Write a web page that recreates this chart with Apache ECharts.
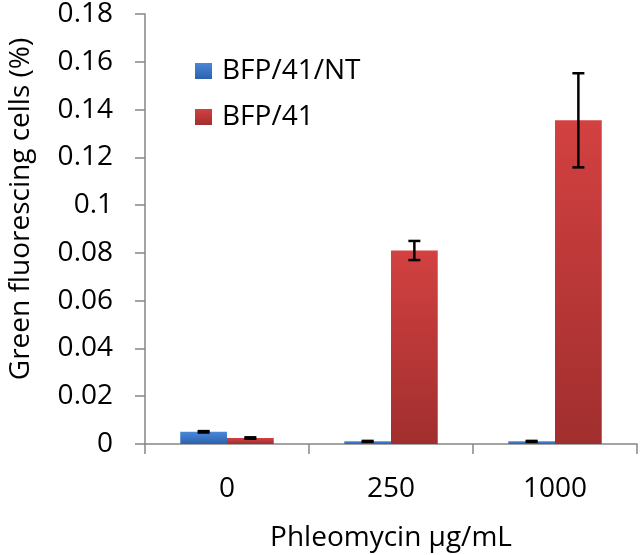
<!DOCTYPE html>
<html><head><meta charset="utf-8">
<script src="https://cdn.jsdelivr.net/npm/echarts@6/dist/echarts.min.js"></script>
<style>html,body{margin:0;padding:0;background:#fff;}#c{width:641px;height:555px;}</style>
</head><body><div id="c"></div>
<script>
const categories = ['0', '250', '1000'];
const seriesNames = ['BFP/41/NT', 'BFP/41'];
const ntValues = [0.0051, 0.0011, 0.0011];
const ntErrors = [0.0003, 0.0002, 0.0002];
const bfpValues = [0.0025, 0.081, 0.1355];
const bfpErrors = [0.0003, 0.004, 0.0197];
const yTicks = { min: 0, max: 0.18, interval: 0.02 };

const FONT = 'Open Sans';
const FS = 28;
const CAT_GAP = 0.43;

function grad(top, bottom) {
  return new echarts.graphic.LinearGradient(0, 0, 0, 1, [
    { offset: 0, color: top }, { offset: 1, color: bottom }
  ]);
}
const blue = grad('#4a88d8', '#2c62ad');
const red = grad('#d34141', '#a12e2e');

function errData(vals, errs) {
  return vals.map((v, i) => [i, v - errs[i], v + errs[i]]);
}
function errRender(side) {
  return function (params, api) {
    const idx = api.value(0);
    const lo = api.coord([idx, api.value(1)]);
    const hi = api.coord([idx, api.value(2)]);
    const catW = api.size([1, 0])[0];
    const barW = catW * (1 - CAT_GAP) / 2;
    const x = lo[0] + side * barW / 2;
    const cap = 6;
    const style = { stroke: '#000', lineWidth: 2.5 };
    return {
      type: 'group',
      children: [
        { type: 'line', shape: { x1: x, y1: hi[1], x2: x, y2: lo[1] }, style },
        { type: 'line', shape: { x1: x - cap, y1: hi[1], x2: x + cap, y2: hi[1] }, style },
        { type: 'line', shape: { x1: x - cap, y1: lo[1], x2: x + cap, y2: lo[1] }, style }
      ]
    };
  };
}

const chart = echarts.init(document.getElementById('c'), null, { renderer: 'canvas' });
chart.setOption({
  animation: false,
  textStyle: { fontFamily: FONT },
  grid: { left: 145, right: 4, top: 14, bottom: 111, containLabel: false, outerBoundsMode: 'none' },
  legend: {
    orient: 'vertical', left: 190, top: 52,
    itemWidth: 17, itemHeight: 16, itemGap: 18,
    icon: 'rect',
    data: seriesNames,
    textStyle: { fontSize: FS, color: '#000', fontFamily: FONT, padding: [0, 0, 0, 5] }
  },
  xAxis: {
    type: 'category', data: categories,
    name: 'Phleomycin µg/mL', nameLocation: 'middle', nameGap: 80,
    nameTextStyle: { fontSize: FS, color: '#000', fontFamily: FONT },
    axisLine: { lineStyle: { color: '#868686', width: 1.5 } },
    axisTick: { show: true, length: 10, lineStyle: { color: '#868686', width: 1.5 } },
    axisLabel: { fontSize: FS, color: '#000', margin: 31, fontFamily: FONT },
    splitLine: { show: false }
  },
  yAxis: {
    type: 'value', min: yTicks.min, max: yTicks.max, interval: yTicks.interval,
    name: 'Green fluorescing cells (%)', nameLocation: 'middle', nameGap: 110,
    nameTextStyle: { fontSize: FS, color: '#000', fontFamily: FONT, padding: [0, 0, 0, 40] },
    axisLine: { show: true, lineStyle: { color: '#868686', width: 1.5 } },
    axisTick: { show: true, length: 10, lineStyle: { color: '#868686', width: 1.5 } },
    axisLabel: { fontSize: FS, color: '#000', margin: 32, fontFamily: FONT,
      formatter: v => String(parseFloat(v.toFixed(4))) },
    splitLine: { show: false }
  },
  series: [
    { name: seriesNames[0], type: 'bar', data: ntValues, barGap: '0%', barCategoryGap: (CAT_GAP * 100) + '%',
      itemStyle: { color: blue } },
    { name: seriesNames[1], type: 'bar', data: bfpValues, barGap: '0%', barCategoryGap: (CAT_GAP * 100) + '%',
      itemStyle: { color: red } },
    { type: 'custom', name: 'err1', data: errData(ntValues, ntErrors), renderItem: errRender(-1), z: 10,
      encode: { x: 0, y: [1, 2] } },
    { type: 'custom', name: 'err2', data: errData(bfpValues, bfpErrors), renderItem: errRender(1), z: 10,
      encode: { x: 0, y: [1, 2] } }
  ]
});
</script></body></html>
